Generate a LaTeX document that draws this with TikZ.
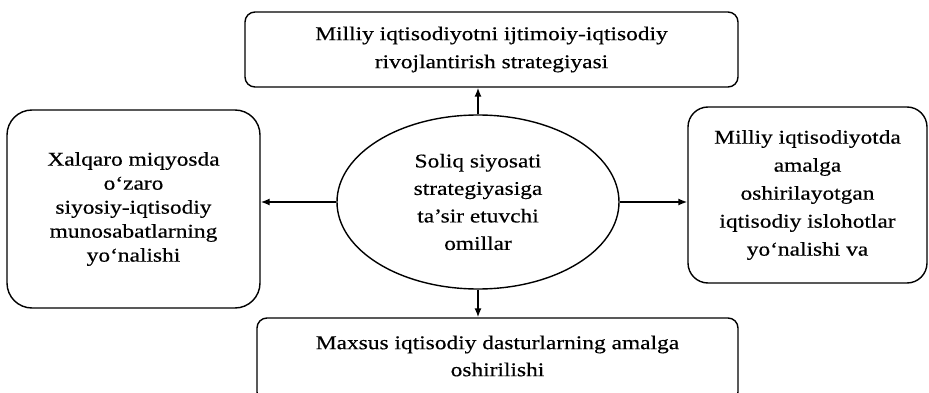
\documentclass[tikz,border=0pt]{standalone}
\usepackage{fontspec}
\setmainfont{Liberation Serif}[FakeStretch=1.2,FakeBold=0.4]
\usetikzlibrary{arrows.meta,shapes.geometric}
\begin{document}
\begin{tikzpicture}[x=1pt,y=-1pt,
  box/.style={draw, line width=1.4pt, inner sep=0pt, align=center},
  fs/.style={font=\fontsize{19.5}{#1}\selectfont},
  arr/.style={line width=1.4pt, -{Latex[length=9pt,width=7pt]}}]
\useasboundingbox (0,0) rectangle (929,393);
\clip (0,0) rectangle (929,393);
\node[box, fs=28pt, rounded corners=10pt, minimum width=493pt, minimum height=75pt] (topbox) at (491.5,49.5)
  {Milliy iqtisodiyotni ijtimoiy-iqtisodiy\\rivojlantirish strategiyasi};
\node[box, fs=24pt, rounded corners=25pt, minimum width=253pt, minimum height=198pt] (leftbox) at (133.5,209)
  {Xalqaro miqyosda\\o‘zaro\\siyosiy-iqtisodiy\\munosabatlarning\\yo‘nalishi};
\node[box, fs=28pt, rounded corners=20pt, minimum width=239pt, minimum height=176pt] (rightbox) at (807.5,195)
  {Milliy iqtisodiyotda\\amalga\\oshirilayotgan\\iqtisodiy islohotlar\\yo‘nalishi va};
\node[box, fs=27pt, rounded corners=10pt, minimum width=481pt, minimum height=84pt, text depth=0pt] (botbox) at (497.5,360)
  {};
\node[fs=27pt, align=center, inner sep=0pt] (botT) at (497.5,356)
  {Maxsus iqtisodiy dasturlarning amalga\\oshirilishi};
\node[box, fs=27.5pt, ellipse, minimum width=282pt, minimum height=174pt] (E) at (478,202)
  {Soliq siyosati\\strategiyasiga\\ta’sir etuvchi\\omillar};
\draw[arr] (E.north) -- (E.north |- topbox.south);
\draw[arr] (E.west) -- (E.west -| leftbox.east);
\draw[arr] (E.east) -- (E.east -| rightbox.west);
\draw[arr] (E.south) -- (E.south |- botbox.north);
\end{tikzpicture}
\end{document}
